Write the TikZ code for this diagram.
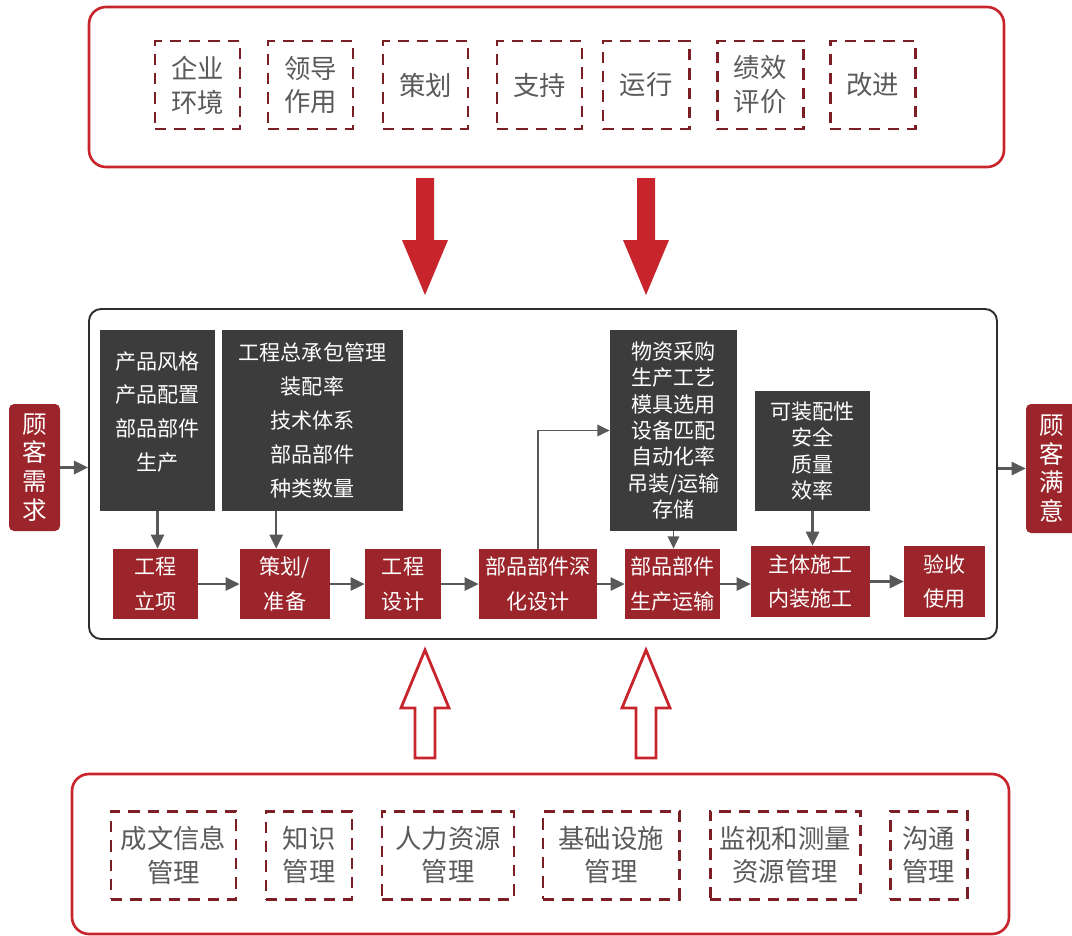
\documentclass[tikz,border=0pt]{standalone}
\usepackage{fontspec}
\setmainfont{Noto Sans CJK SC}
\usetikzlibrary{positioning, arrows.meta, calc}

\definecolor{linered}{HTML}{C8242C}
\definecolor{dashred}{HTML}{7B1F24}
\definecolor{boxred}{HTML}{9B252B}
\definecolor{boxdark}{HTML}{3C3C3C}
\definecolor{flowgray}{HTML}{585858}
\definecolor{textgray}{HTML}{5A5A5A}
\definecolor{framegray}{HTML}{2E2E2E}

\tikzset{
  sz/.style 2 args={minimum width=#1*0.02cm, minimum height=#2*0.02cm, inner sep=0pt},
  outer/.style={draw=linered, line width=1.5pt, rounded corners=0.34cm},
  frame/.style={draw=framegray, line width=1.1pt, rounded corners=0.24cm},
  dashbox/.style={draw=dashred, line width=1.7pt, dash pattern=on 6.5pt off 4.5pt,
    text=textgray, align=center, font=\fontsize{15}{19.3}\selectfont},
  darkbox/.style={fill=boxdark, text=white, align=center, font=\fontsize{12}{19.3}\selectfont},
  tight/.style={font=\fontsize{12}{15}\selectfont},
  boxtext/.style={text=white, align=center, inner sep=0pt, font=\fontsize{12}{19.3}\selectfont},
  procbox/.style={fill=boxred, text=white, align=center, font=\fontsize{12}{19.8}\selectfont},
  sidebox/.style={fill=boxred, text=white, align=center, rounded corners=0.1cm,
    font=\fontsize{14}{16.4}\selectfont},
  flow/.style={draw=flowgray, line width=1.4pt, -{Triangle[length=8pt,width=7.5pt]}},
  thinflow/.style={draw=flowgray, line width=1.1pt, -{Triangle[length=7pt,width=6.5pt]}},
  bigfill/.style={fill=linered},
  bighollow/.style={draw=linered, line width=1.6pt, fill=white},
}

\begin{document}
\begin{tikzpicture}[x=0.02cm, y=-0.02cm]
  \useasboundingbox (0,0) rectangle (1072,936);

  % top: ISO clauses
  \node[outer, sz={915}{160}] (top) at (546.5,87) {};
  \node[dashbox, sz={85}{88}] (env)  at (197.5,85) {企业\\环境};
  \node[dashbox, sz={85}{88}] (lead) at (310.5,85) {领导\\作用};
  \node[dashbox, sz={85}{88}] (plan) at (425.5,85) {策划};
  \node[dashbox, sz={85}{88}] (supp) at (539.5,85) {支持};
  \node[dashbox, sz={86}{88}] (oper) at (646,85) {运行};
  \node[dashbox, sz={86}{88}] (eval) at (760,85) {绩效\\评价};
  \node[dashbox, sz={85}{88}] (impr) at (872.5,85) {改进};

  % middle frame
  \node[frame, sz={908}{330}] (frame) at (543,474) {};
  \node[sidebox, sz={51}{127}] (need) at (34.5,467.5) {顾\\客\\需\\求};
  \node[sidebox, sz={51}{129}] (sat) at (1051.5,468.5) {顾\\客\\满\\意};

  % dark info boxes
  \node[darkbox, sz={115}{181}] (d1) at (157.5,420.5) {};
  \node[boxtext] (label1) at (157.5,412) {产品风格\\产品配置\\部品部件\\生产};
  \node[darkbox, sz={181}{181}] (d2) at (312.5,420.5) {工程总承包管理\\装配率\\技术体系\\部品部件\\种类数量};
  \node[darkbox, tight, sz={127}{201}] (d3) at (673.5,430.5) {物资采购\\生产工艺\\模具选用\\设备匹配\\自动化率\\吊装/运输\\存储};
  \node[darkbox, tight, sz={115}{120}] (d4) at (812.5,451) {可装配性\\安全\\质量\\效率};
  \coordinate (d2foot) at ($(d2.south west)!0.3!(d2.south east)$);

  % process steps
  \node[procbox, sz={85}{70}]  (p1) at (155.5,584) {工程\\立项};
  \node[procbox, sz={90}{70}]  (p2) at (285,584) {策划/\\准备};
  \node[procbox, sz={76}{70}]  (p3) at (403,584) {工程\\设计};
  \node[procbox, sz={118}{70}] (p4) at (538,584) {部品部件深\\化设计};
  \node[procbox, sz={95}{70}]  (p5) at (672.5,584) {部品部件\\生产运输};
  \node[procbox, sz={119}{71}] (p6) at (810.5,581.5) {主体施工\\内装施工};
  \node[procbox, sz={81}{71}]  (p7) at (944.5,581.5) {验收\\使用};

  % bottom: resources
  \node[outer, sz={937}{160}] (bot) at (540.5,854) {};
  \node[dashbox, sz={125}{88}] (doc)   at (173.5,855) {成文信息\\管理};
  \node[dashbox, sz={86}{88}]  (know)  at (309,855) {知识\\管理};
  \node[dashbox, sz={132}{88}] (hr)    at (448,855) {人力资源\\管理};
  \node[dashbox, sz={136}{88}] (infra) at (611,855) {基础设施\\管理};
  \node[dashbox, sz={150}{88}] (mon)   at (785,855) {监视和测量\\资源管理};
  \node[dashbox, sz={77}{88}]  (comm)  at (928.5,855) {沟通\\管理};

  % flow arrows
  \path[flow] (need.east) -- (need.east -| frame.west);
  \path[flow] (sat.west -| frame.east) -- (sat.west);
  \path[flow] (p1.east) -- (p2.west);
  \path[flow] (p2.east) -- (p3.west);
  \path[flow] (p3.east) -- (p4.west);
  \path[flow] (p4.east) -- (p5.west);
  \path[flow] (p5.east) -- (p5.east -| p6.west);
  \path[flow] (p6.east) -- (p7.west);

  \path[flow] (d1.south) -- (d1.south |- p1.north);
  \path[flow] (d2foot) -- (d2foot |- p2.north);
  \path[thinflow] (d3.south) -- (d3.south |- p5.north);
  \path[flow] (d4.south) -- (d4.south |- p6.north);
  \path[thinflow] (p4.north) |- (d3.west);

  % big arrows
  \foreach \cx in {425,646}{
    \fill[bigfill] (\cx-9,178) -- (\cx+9,178) -- (\cx+9,240) -- (\cx+23,240)
      -- (\cx,295) -- (\cx-23,240) -- (\cx-9,240) -- cycle;
    \draw[bighollow] (\cx-10,758) -- (\cx+10,758) -- (\cx+10,708) -- (\cx+24,708)
      -- (\cx,650) -- (\cx-24,708) -- (\cx-10,708) -- cycle;
  }
\end{tikzpicture}
\end{document}
